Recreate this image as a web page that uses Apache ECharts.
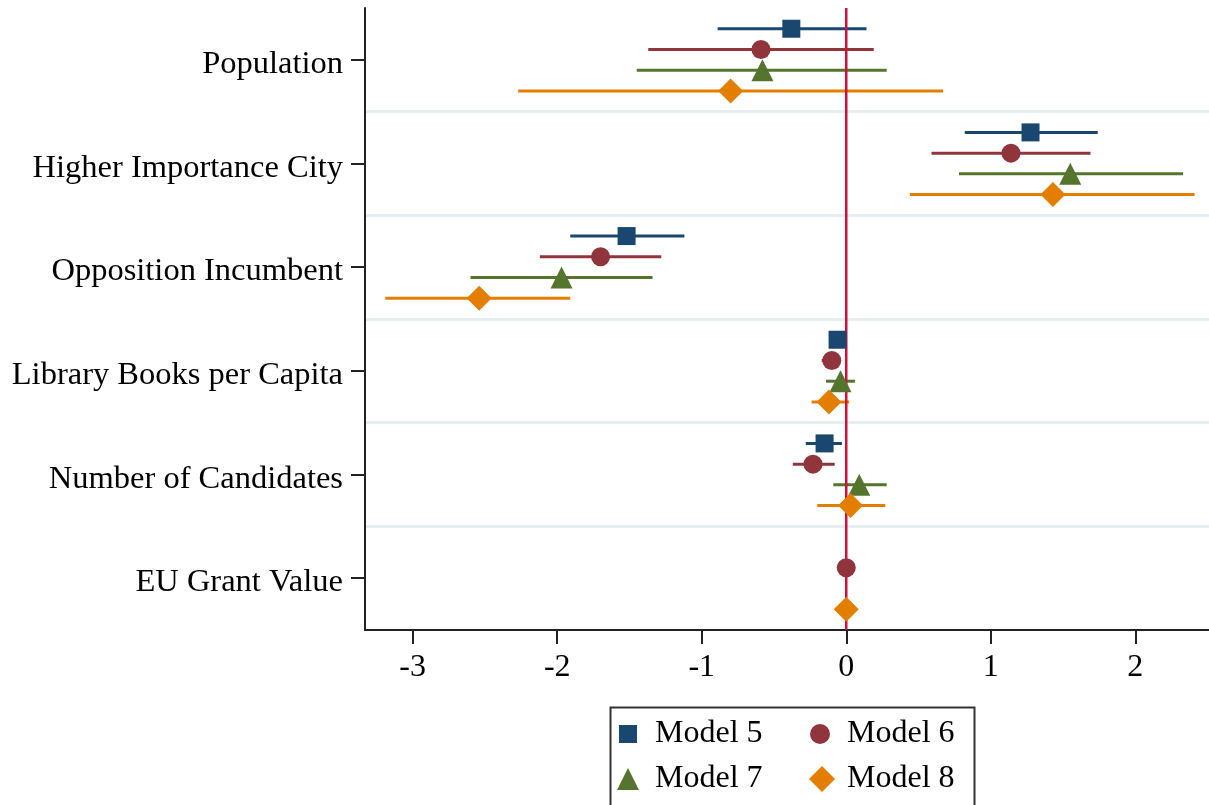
<!DOCTYPE html>
<html>
<head>
<meta charset="utf-8">
<script src="https://cdn.jsdelivr.net/npm/echarts@6/dist/echarts.min.js"></script>
<style>html,body{margin:0;padding:0;background:#fff;}#c{width:1209px;height:805px;}</style>
</head>
<body>
<div id="c"></div>
<script>
// ---- data ----
const categories = ["Population","Higher Importance City","Opposition Incumbent","Library Books per Capita","Number of Candidates","EU Grant Value"];
const models = ["Model 5","Model 6","Model 7","Model 8"];
const xTicks = [-3,-2,-1,0,1,2];
// estimates (null = not in model)
const est5 = [-0.38, 1.275, -1.52, -0.06, -0.15, null];
const lo5  = [-0.89, 0.82, -1.91, -0.08, -0.28, null];
const hi5  = [ 0.14, 1.74, -1.12, -0.04, -0.03, null];
const est6 = [-0.59, 1.14, -1.70, -0.10, -0.23, 0.00];
const lo6  = [-1.37, 0.59, -2.12, -0.17, -0.37, -0.01];
const hi6  = [ 0.19, 1.69, -1.28, -0.04, -0.08, 0.01];
const est7 = [-0.58, 1.55, -1.97, -0.04, 0.09, null];
const lo7  = [-1.45, 0.78, -2.60, -0.14, -0.09, null];
const hi7  = [ 0.28, 2.33, -1.34, 0.06, 0.28, null];
const est8 = [-0.80, 1.43, -2.54, -0.12, 0.03, 0.00];
const lo8  = [-2.27, 0.44, -3.19, -0.24, -0.20, -0.01];
const hi8  = [ 0.67, 2.41, -1.91, 0.02, 0.27, 0.01];

// ---- styling ----
const colors = ["#1a476f","#90353b","#55752f","#e37e00"];
const symbols = ["rect","circle","triangle","diamond"];
const symSizes = [18,19,22,25];
const offsets = [-0.30,-0.10,0.10,0.30];
const FONT = "Liberation Serif";

const ests = [est5,est6,est7,est8], los=[lo5,lo6,lo7,lo8], his=[hi5,hi6,hi7,hi8];

const series = [];
models.forEach((m,k)=>{
  const data = [];
  categories.forEach((c,i)=>{ if(ests[k][i]!==null) data.push([los[k][i],his[k][i],i+offsets[k]]); });
  series.push({
    name: m+" CI", type:'custom', xAxisIndex:0, yAxisIndex:1, z:2, silent:true,
    encode:{x:[0,1], y:2},
    data,
    renderItem:(params,api)=>{
      const a = api.coord([api.value(0), api.value(2)]);
      const b = api.coord([api.value(1), api.value(2)]);
      return {type:'line', shape:{x1:a[0],y1:a[1],x2:b[0],y2:b[1]}, style:{stroke:colors[k], lineWidth:3}};
    }
  });
});
series.push({
  name:'zero', type:'custom', xAxisIndex:0, yAxisIndex:1, z:3, silent:true,
  data:[[0,-0.5,5.5]], encode:{x:0,y:[1,2]},
  renderItem:(params,api)=>{
    const a = api.coord([api.value(0), api.value(1)]);
    const b = api.coord([api.value(0), api.value(2)]);
    return {type:'line', shape:{x1:a[0],y1:a[1],x2:b[0],y2:b[1]}, style:{stroke:'#d0103a', lineWidth:2.5}};
  }
});
models.forEach((m,k)=>{
  const data = [];
  categories.forEach((c,i)=>{ if(ests[k][i]!==null) data.push([ests[k][i], i+offsets[k]]); });
  series.push({
    name:m, type:'scatter', xAxisIndex:0, yAxisIndex:1, z:4,
    symbol:symbols[k], symbolSize:symSizes[k],
    itemStyle:{color:colors[k], opacity:1},
    data
  });
});

function mkLegend(k, left, top, size, pad){
  return {
    orient:'horizontal', left, top, itemWidth:size, itemHeight:size, padding:0,
    selectedMode:false,
    textStyle:{fontFamily:FONT, fontSize:32, color:'#000', padding:[0,0,0,pad]},
    data:[{name:models[k], icon:symbols[k]}]
  };
}

const option = {
  animation:false,
  backgroundColor:'#fff',
  grid:{left:365, right:0, top:8, bottom:175, containLabel:false},
  xAxis:{
    type:'value', min:-3.33, max:2.51,
    axisLine:{show:true, onZero:false, lineStyle:{color:'#222', width:2}},
    axisTick:{show:true, length:14, lineStyle:{color:'#222', width:2}, customValues:xTicks},
    axisLabel:{fontFamily:FONT, fontSize:32, color:'#000', margin:22, customValues:xTicks},
    splitLine:{show:false}
  },
  yAxis:[{
    type:'category', data:categories, inverse:true, position:'left',
    axisLine:{show:true, onZero:false, lineStyle:{color:'#222', width:2}},
    axisTick:{show:true, alignWithLabel:true, length:14, lineStyle:{color:'#222', width:2}},
    axisLabel:{
      margin:22,
      formatter:(v)=>'{a|'+v+'}',
      rich:{a:{fontFamily:FONT, fontSize:32.5, color:'#000', padding:[9,0,0,0]}}
    },
    splitLine:{show:false}
  },{
    type:'value', min:-0.5, max:5.5, interval:1, inverse:true, position:'left',
    axisLine:{show:false, onZero:false}, axisTick:{show:false}, axisLabel:{show:false},
    splitLine:{show:true, showMinLine:false, showMaxLine:false, lineStyle:{color:'#e6eef1', width:3}}
  }],
  legend:[
    mkLegend(0, 619, 718, 18, 13),
    mkLegend(1, 810, 718, 20, 12),
    mkLegend(2, 617, 763, 22, 11),
    mkLegend(3, 809, 763, 26, 7)
  ],
  graphic:[{type:'rect', left:608, top:705, shape:{width:364, height:130}, style:{fill:null, stroke:'#333', lineWidth:2}, z:10}],
  series
};
const chart = echarts.init(document.getElementById('c'), null, {renderer:'canvas'});
chart.setOption(option);
</script>
</body>
</html>
